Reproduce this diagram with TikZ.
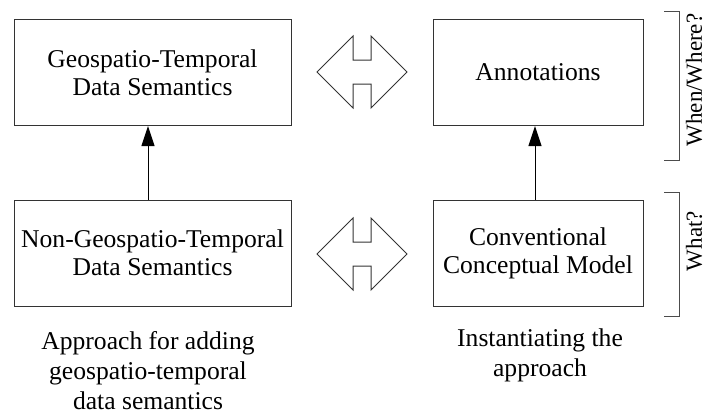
\documentclass[tikz,border=0pt]{standalone}
\usepackage{fontspec}
\setmainfont{Liberation Serif}
\usetikzlibrary{arrows.meta}
\begin{document}
\begin{tikzpicture}[x=1pt,y=-1pt,
 box/.style={draw=black!80,line width=1pt,inner sep=0pt,align=center,font=\fontsize{25.6}{28}\selectfont},
 lbl/.style={align=center,inner sep=0pt,font=\fontsize{25.6}{30}\selectfont},
 side/.style={inner sep=0pt,rotate=90,font=\fontsize{23}{26}\selectfont},
 dbl/.style={draw=black!80,line width=1pt,line join=miter},
 brk/.style={draw=black!70,line width=1pt},
 link/.style={draw=black,line width=1pt,-{Triangle[length=20pt,width=13pt]}}]
\useasboundingbox (0,0) rectangle (706,416);
\node[box,minimum width=277pt,minimum height=106pt] (geo) at (152.5,72.5) {Geospatio-Temporal\\Data Semantics};
\node[box,minimum width=210pt,minimum height=106pt] (ann) at (538,72.5) {Annotations};
\node[box,minimum width=277pt,minimum height=106pt] (nongeo) at (152.5,253) {Non-Geospatio-Temporal\\Data Semantics};
\node[box,minimum width=210pt,minimum height=106pt] (ccm) at (538,253) {Conventional\\Conceptual Model};
\draw[link] ([xshift=-4.5pt]nongeo.north) -- ([xshift=-4.5pt]geo.south);
\draw[link] ([xshift=-3pt]ccm.north) -- ([xshift=-3pt]ann.south);
% double arrows
\draw[dbl] (317,72) -- (353,36) -- (353,60) -- (371,60) -- (371,36) -- (407,72) -- (371,108) -- (371,84) -- (353,84) -- (353,108) -- cycle;
\draw[dbl] (317,254) -- (353,218) -- (353,242) -- (371,242) -- (371,218) -- (407,254) -- (371,290) -- (371,266) -- (353,266) -- (353,290) -- cycle;
% brackets
\draw[brk] (664,11) -- (679,11) -- (679,160) -- (664,160);
\draw[brk] (664,192) -- (679,192) -- (679,316) -- (664,316);
\node[side] (ww) at (694,80) {When/Where?};
\node[side] (what) at (694,241) {What?};
% captions
\node[lbl] (cap1) at (148,371) {Approach for adding\\geospatio-temporal\\data semantics};
\node[lbl] (cap2) at (540,355) {Instantiating the\\approach};
\end{tikzpicture}
\end{document}
